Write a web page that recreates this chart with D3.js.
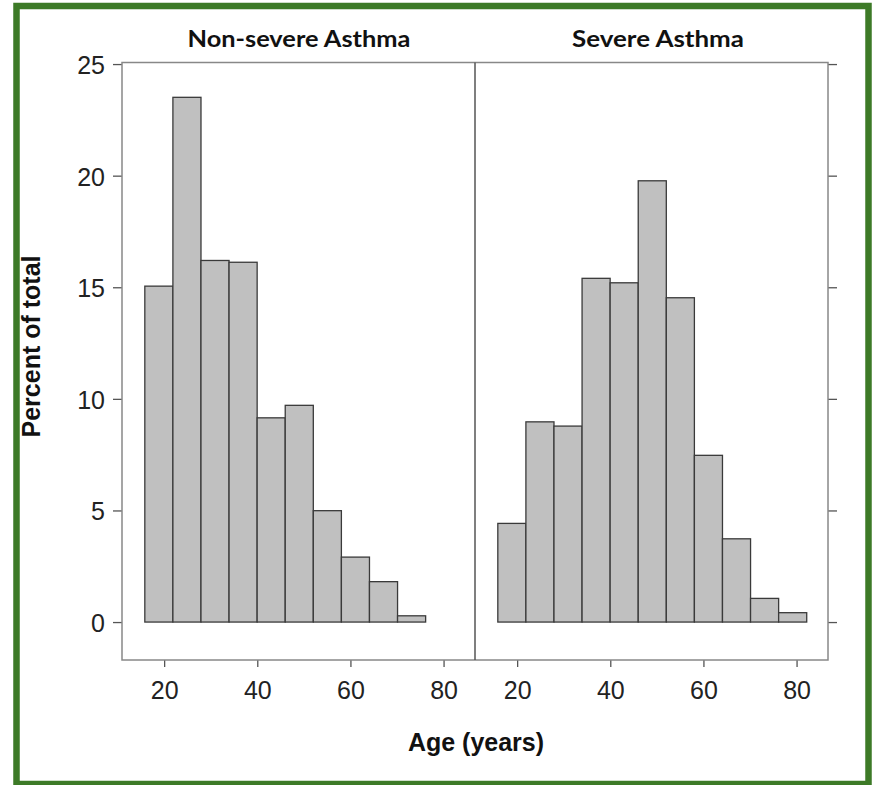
<!DOCTYPE html>
<html>
<head>
<meta charset="utf-8">
<script src="https://cdn.jsdelivr.net/npm/d3@7"></script>
<style>
  body { margin: 0; background: #fff; }
  svg { display: block; }
  .strip-title { font-family: Lato, "Open Sans", sans-serif; font-weight: bold; font-size: 22px; fill: #111; }
  .axis-label { font-family: "Liberation Sans", Arial, sans-serif; font-weight: bold; font-size: 25px; fill: #111; }
</style>
</head>
<body>
<div id="chart"></div>
<script>
const width = 874, height = 785;

// Panels and bin data (percent of total per age bin)
const panels = ["Non-severe Asthma", "Severe Asthma"];
const breaks = [15.85, 21.88, 27.91, 33.94, 39.97, 46.0, 52.03, 58.06, 64.09, 70.12, 76.15, 82.18];
const nonSevere = [15.05, 23.51, 16.2, 16.12, 9.15, 9.71, 4.99, 2.91, 1.81, 0.28, 0];
const severe = [4.42, 8.97, 8.78, 15.4, 15.2, 19.77, 14.53, 7.47, 3.73, 1.06, 0.42];
const yTicks = [0, 5, 10, 15, 20, 25];
const xTicks = [20, 40, 60, 80];

const series = [nonSevere, severe];

// Layout
const panelTop = 62.5, panelBottom = 660;
const panelLeft = 122, panelW = 353;
const titleX = [299, 658];
const titleW = [223, 172];

const svg = d3.select("#chart")
    .append("svg")
    .attr("width", width)
    .attr("height", height);

const yScale = d3.scaleLinear()
    .domain([-1.70, 25.07])
    .range([panelBottom, panelTop]);

const axisColor = "#555";

panels.forEach((name, p) => {
    const x0 = panelLeft + p * panelW;
    const xScale = d3.scaleLinear()
        .domain([10.95, 86.75])
        .range([x0, x0 + panelW]);

    const bins = series[p].map((v, i) => ({ x0: breaks[i], x1: breaks[i + 1], value: v }));

    // Bars
    svg.append("g")
        .selectAll("rect")
        .data(bins)
        .join("rect")
        .attr("x", d => xScale(d.x0))
        .attr("y", d => yScale(d.value))
        .attr("width", d => xScale(d.x1) - xScale(d.x0))
        .attr("height", d => yScale(0) - yScale(d.value))
        .attr("fill", "#c0c0c0")
        .attr("stroke", "#3a3a3a")
        .attr("stroke-width", 1.3);

    // Bottom axis
    const bottomAxis = d3.axisBottom(xScale)
        .tickValues(xTicks)
        .tickSize(7)
        .tickPadding(14);
    const gx = svg.append("g")
        .attr("transform", `translate(0, ${panelBottom})`)
        .call(bottomAxis);
    gx.select(".domain").remove();
    gx.selectAll("line").attr("stroke", axisColor).attr("stroke-width", 1.3);
    gx.selectAll("text")
        .attr("font-family", "Liberation Sans, Arial, sans-serif")
        .attr("font-size", 25)
        .attr("fill", "#222");

    // Strip title
    svg.append("text")
        .attr("class", "strip-title")
        .attr("x", titleX[p])
        .attr("y", 47)
        .attr("text-anchor", "middle")
        .attr("textLength", titleW[p])
        .attr("lengthAdjust", "spacingAndGlyphs")
        .text(name);
});

// Left axis
const leftAxis = d3.axisLeft(yScale)
    .tickValues(yTicks)
    .tickSize(9)
    .tickPadding(8);
const gy = svg.append("g")
    .attr("transform", `translate(${panelLeft}, 0)`)
    .call(leftAxis);
gy.select(".domain").remove();
gy.selectAll("line").attr("stroke", axisColor).attr("stroke-width", 1.3);
gy.selectAll("text")
    .attr("font-family", "Liberation Sans, Arial, sans-serif")
    .attr("font-size", 25)
    .attr("dy", "0.38em")
    .attr("fill", "#222");

// Right axis ticks (no labels)
const rightAxis = d3.axisRight(yScale)
    .tickValues(yTicks)
    .tickSize(9)
    .tickFormat("");
const gr = svg.append("g")
    .attr("transform", `translate(${panelLeft + 2 * panelW}, 0)`)
    .call(rightAxis);
gr.select(".domain").remove();
gr.selectAll("line").attr("stroke", axisColor).attr("stroke-width", 1.3);

// Panel frame and divider
svg.append("rect")
    .attr("x", panelLeft)
    .attr("y", panelTop)
    .attr("width", 2 * panelW)
    .attr("height", panelBottom - panelTop)
    .attr("fill", "none")
    .attr("stroke", "#888")
    .attr("stroke-width", 1.5);

svg.append("line")
    .attr("x1", panelLeft + panelW)
    .attr("x2", panelLeft + panelW)
    .attr("y1", panelTop)
    .attr("y2", panelBottom)
    .attr("stroke", "#555")
    .attr("stroke-width", 1.5);

// Axis labels
svg.append("text")
    .attr("class", "axis-label")
    .attr("text-anchor", "middle")
    .attr("transform", "translate(40, 346.5) rotate(-90)")
    .text("Percent of total");

svg.append("text")
    .attr("class", "axis-label")
    .attr("text-anchor", "middle")
    .attr("x", 476)
    .attr("y", 751)
    .text("Age (years)");

// Green outer border
svg.append("rect")
    .attr("x", 16.5)
    .attr("y", 6)
    .attr("width", 852)
    .attr("height", 778)
    .attr("fill", "none")
    .attr("stroke", "#3d7a27")
    .attr("stroke-width", 6.5);
</script>
</body>
</html>
